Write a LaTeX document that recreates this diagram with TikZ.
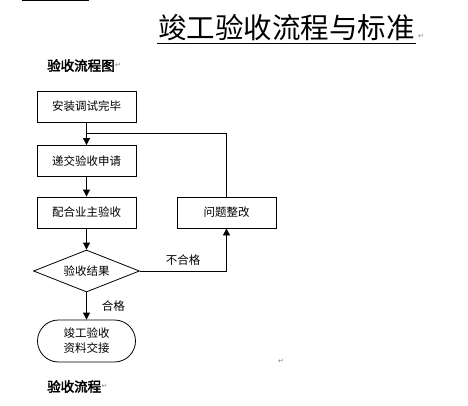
\documentclass[tikz,border=0pt]{standalone}
\usepackage{fontspec}
\newfontfamily\cjk{Noto Sans CJK SC}
\newfontfamily\cjkb[FakeBold=2.5]{Noto Sans CJK SC}
\newfontfamily\djvfont{DejaVu Sans}
\usetikzlibrary{shapes.geometric,shapes.misc,arrows.meta}
\begin{document}
\begin{tikzpicture}[x=1pt,y=-1pt,
  box/.style={draw, line width=0.8pt, minimum width=99pt, minimum height=31pt, inner sep=0pt, font=\cjk\fontsize{11.5}{13}\selectfont},
  arr/.style={line width=0.8pt, -{Triangle[width=7pt,length=7pt]}},
  conn/.style={line width=0.8pt},
  lbl/.style={font=\cjk\fontsize{11.5}{13}\selectfont, inner sep=1pt},
  pmark/.style={font=\djvfont\fontsize{7}{8}\selectfont, text=gray, inner sep=0pt}]
\useasboundingbox (0,0) rectangle (468,406);
\fill[white] (0,0) rectangle (468,406);
% top rule fragment
\coordinate (ra) at (22,0.75);
\coordinate (rb) at (89,0.75);
\draw[line width=1.5pt] (ra) -- (rb);
% title
\node[font=\cjk\fontsize{28.5}{30}\selectfont, inner sep=0pt, anchor=base] (title) at (286.5,39) {竣工验收流程与标准};
\coordinate (ul1) at (157,43.5);
\coordinate (ul2) at (416,43.5);
\draw[line width=1pt] (ul1) -- (ul2);
\node[pmark, anchor=base west] (pm1) at (418,39) {↵};
% heading
\node[font=\cjkb\fontsize{13.5}{14}\selectfont, inner sep=0pt, anchor=west] (h1) at (47,65.5) {验收流程图};
\node[pmark, anchor=west] (pm2) at (h1.east) {↵};
% boxes
\node[box] (b1) at (86.5,106.5) {安装调试完毕};
\node[box] (b2) at (86.5,161) {递交验收申请};
\node[box] (b3) at (86.5,212.5) {配合业主验收};
\node[box] (b4) at (226.5,212.5) {问题整改};
\node[draw, diamond, aspect=2.52, minimum width=106pt, minimum height=42pt, inner sep=0pt, line width=0.8pt, font=\cjk\fontsize{11.5}{13}\selectfont] (d) at (86.5,271) {验收结果};
\node[draw, rounded rectangle, minimum width=98pt, minimum height=42pt, inner sep=0pt, line width=0.8pt, align=center, font=\cjk\fontsize{11.5}{15}\selectfont] (t) at (86.5,341) {竣工验收\\资料交接};
% connectors
\coordinate (j) at (86.5,133);
\draw[arr] (b1) -- (b2);
\draw[conn] (b4.north) |- (j);
\draw[arr] (b2) -- (b3);
\draw[arr] (b3) -- (d);
\draw[arr] (d.east) -| node[lbl, pos=0.25, above=4pt] {不合格} (b4.south);
\draw[arr] (d.south) -- node[lbl, right=14pt] {合格} (t.north);
% paragraph marks and bottom heading
\node[pmark] (pm3) at (281,361) {↵};
\node[font=\cjkb\fontsize{13.5}{14}\selectfont, inner sep=0pt, anchor=west] (h2) at (47,386.5) {验收流程};
\node[pmark, anchor=west] (pm4) at (h2.east) {↵};
\end{tikzpicture}
\end{document}
